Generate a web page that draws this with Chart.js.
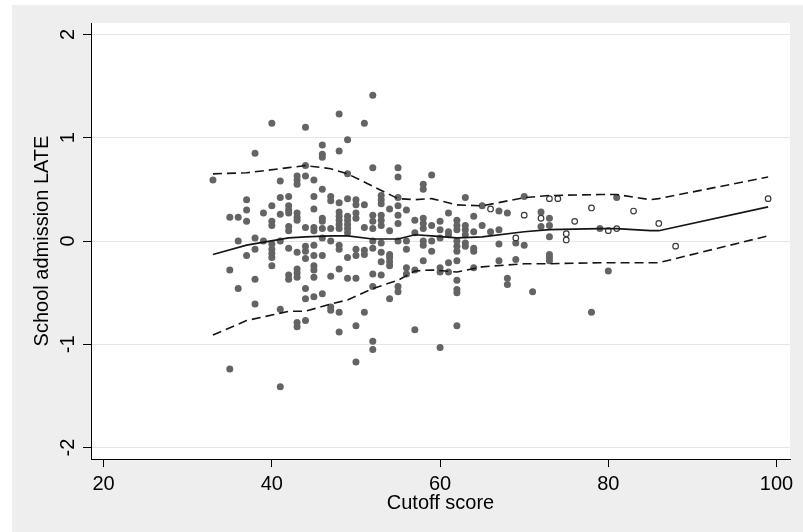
<!DOCTYPE html>
<html>
<head>
<meta charset="utf-8">
<script src="https://cdn.jsdelivr.net/npm/chart.js@4.4.1/dist/chart.umd.min.js"></script>
<style>
  html, body { margin: 0; padding: 0; background: #fff; }
  #frame { position: absolute; left: 12px; top: 5px; width: 791px; height: 527px; background: #eeeeee; }
</style>
</head>
<body>
<div id="frame"><canvas id="lateChart" width="791" height="527"></canvas></div>
<script>
// cutoff score columns and the LATE estimates sitting on each (filled markers)
const filledScores = [33, 35, 36, 37, 38, 39, 40, 41, 42, 43, 44, 45, 46, 47, 48, 49, 50, 51, 52, 53, 54, 55,
  56, 57, 58, 59, 60, 61, 62, 63, 64, 65, 66, 67, 68, 69, 70, 71, 72, 73, 78, 79, 80, 81];
const filledLates = [
  [0.59],
  [0.23, -0.28, -1.24],
  [0.23, 0.00, -0.46],
  [0.40, 0.30, 0.19, -0.14],
  [0.85, 0.03, -0.08, -0.37, -0.61],
  [0.27, 0.00],
  [1.14, 0.34, 0.19, 0.15, -0.03, -0.08, -0.12, -0.16, -0.24],
  [0.58, 0.42, 0.26, 0.00, -0.66, -1.41],
  [0.43, 0.34, 0.30, 0.27, 0.14, 0.10, -0.07, -0.33, -0.37],
  [0.63, 0.59, 0.55, 0.27, 0.23, 0.20, -0.11, -0.27, -0.31, -0.35, -0.79, -0.83],
  [1.10, 0.73, 0.63, 0.13, -0.05, -0.10, -0.17, -0.46, -0.56, -0.77],
  [0.59, 0.43, 0.31, 0.13, 0.10, -0.04, -0.14, -0.24, -0.28, -0.35, -0.54],
  [0.93, 0.84, 0.81, 0.50, 0.22, 0.19, 0.12, 0.03, -0.14, -0.51],
  [0.43, 0.39, 0.12, 0.00, -0.34, -0.64, -0.67],
  [1.23, 0.87, 0.37, 0.28, 0.24, 0.20, 0.16, 0.12, -0.04, -0.08, -0.27, -0.69, -0.88],
  [0.98, 0.65, 0.41, 0.24, 0.20, 0.16, 0.12, 0.08, -0.16, -0.36],
  [0.40, 0.35, 0.27, 0.22, -0.08, -0.14, -0.36, -0.82, -1.17],
  [1.14, 0.35, 0.13, -0.09, -0.13, -0.69],
  [1.41, 0.71, 0.25, 0.19, 0.12, 0.00, -0.07, -0.32, -0.44, -0.97, -1.05],
  [0.44, 0.40, 0.36, 0.25, 0.20, 0.15, -0.02, -0.11, -0.20, -0.33],
  [0.31, 0.10, -0.13, -0.16, -0.20, -0.24, -0.56],
  [0.71, 0.62, 0.42, 0.34, 0.25, 0.17, 0.00, -0.44, -0.49],
  [0.30, 0.00, -0.08, -0.26, -0.32],
  [0.20, 0.08, -0.28, -0.86],
  [0.55, 0.50, 0.22, 0.17, 0.12, 0.00, -0.04, -0.19],
  [0.64, 0.15, 0.00, -0.10],
  [0.19, 0.11, 0.03, -0.26, -0.30, -1.03],
  [0.27, 0.09, 0.06, -0.21, -0.30],
  [0.20, 0.15, 0.11, 0.00, -0.05, -0.10, -0.19, -0.38, -0.47, -0.50, -0.82],
  [0.42, 0.15, 0.11, 0.06, -0.02, -0.05],
  [0.24, 0.09, -0.07, -0.10, -0.26],
  [0.34, 0.15],
  [0.09],
  [0.29, 0.11, -0.03, -0.19],
  [0.27, -0.36, -0.42],
  [-0.02, -0.18],
  [0.43, -0.04],
  [-0.49],
  [0.28, 0.14],
  [0.22, 0.15, 0.04, -0.13, -0.16, -0.19],
  [-0.69],
  [0.12],
  [-0.29],
  [0.42]
];

// hollow markers
const openScores = [66, 69, 70, 72, 73, 74, 75, 75, 76, 78, 80, 81, 83, 86, 88, 99];
const openLates = [0.31, 0.03, 0.25, 0.22, 0.41, 0.41, 0.07, 0.01, 0.19, 0.32, 0.10, 0.12, 0.29, 0.17, -0.05, 0.41];

// smoothed fit and its band
const fitScores = [33, 37, 42, 44, 47, 49, 52, 55, 57, 59, 62, 65, 70, 73, 79, 81, 85, 86, 99];
const fitMid = [-0.13, -0.04, 0.03, 0.04, 0.05, 0.05, 0.02, 0.02, 0.06, 0.05, 0.03, 0.04, 0.09, 0.11, 0.12, 0.12, 0.10, 0.10, 0.33];
const fitHi = [0.65, 0.66, 0.71, 0.73, 0.70, 0.65, 0.53, 0.41, 0.40, 0.41, 0.35, 0.34, 0.42, 0.44, 0.45, 0.45, 0.40, 0.41, 0.62];
const fitLo = [-0.91, -0.77, -0.68, -0.68, -0.61, -0.57, -0.46, -0.38, -0.29, -0.28, -0.30, -0.25, -0.22, -0.22, -0.21, -0.21, -0.21, -0.21, 0.05];

const xTicks = [20, 40, 60, 80, 100];
const yTicks = [-2, -1, 0, 1, 2];

const filledPts = [];
filledScores.forEach((s, i) => {
  filledLates[i].forEach(v => filledPts.push({ x: s, y: v }));
});
const openPts = openScores.map((s, i) => ({ x: s, y: openLates[i] }));
const toLine = arr => fitScores.map((s, i) => ({ x: s, y: arr[i] }));

const font = { family: "'Liberation Sans', Arial, sans-serif", size: 20 };

const whitePlot = {
  id: 'whitePlot',
  beforeDraw(chart) {
    const { ctx, chartArea: a } = chart;
    ctx.save();
    ctx.fillStyle = '#ffffff';
    ctx.fillRect(a.left, a.top, a.right - a.left, a.bottom - a.top);
    ctx.restore();
  }
};

const lineStyle = {
  type: 'line',
  showLine: true,
  pointRadius: 0,
  borderColor: '#151515',
  borderWidth: 1.6,
  fill: false,
  tension: 0
};

const config = {
  type: 'scatter',
  data: {
    datasets: [
      Object.assign({ label: 'Fit', data: toLine(fitMid), order: 0 }, lineStyle),
      Object.assign({ label: 'Upper', data: toLine(fitHi), borderDash: [9, 5], order: 0 }, lineStyle),
      Object.assign({ label: 'Lower', data: toLine(fitLo), borderDash: [9, 5], order: 0 }, lineStyle),
      {
        label: 'Filled',
        data: filledPts,
        pointRadius: 3.5,
        pointBackgroundColor: '#646464',
        pointBorderWidth: 0,
        order: 2
      },
      {
        label: 'Open',
        data: openPts,
        pointRadius: 2.8,
        pointBackgroundColor: '#ffffff',
        pointBorderColor: '#3a3a3a',
        pointBorderWidth: 1.2,
        order: 1
      }
    ]
  },
  options: {
    responsive: false,
    animation: false,
    devicePixelRatio: 1,
    layout: { padding: { top: 8, right: 13, left: 0, bottom: 0 } },
    plugins: { legend: { display: false }, tooltip: { enabled: false } },
    scales: {
      x: {
        type: 'linear',
        position: 'bottom',
        min: 18.5,
        max: 101.6,
        afterBuildTicks: s => { s.ticks = xTicks.map(v => ({ value: v })); },
        afterFit: s => { s.height = 73; },
        grid: { drawOnChartArea: false, tickLength: 8, tickColor: '#000', tickWidth: 1 },
        border: { color: '#000', width: 1 },
        ticks: { color: '#000', font: font, padding: 5, maxRotation: 0, autoSkip: false },
        title: { display: true, text: 'Cutoff score', color: '#000', font: font, padding: { top: 0, bottom: 17 } }
      },
      y: {
        type: 'linear',
        min: -2.11,
        max: 2.11,
        afterBuildTicks: s => { s.ticks = yTicks.map(v => ({ value: v })); },
        afterFit: s => { s.width = 79; },
        grid: { color: '#e6e6e6', lineWidth: 1, tickLength: 8, tickColor: '#000', tickWidth: 1 },
        border: { color: '#000', width: 1 },
        ticks: { color: '#000', font: font, padding: 6, minRotation: 90, maxRotation: 90, crossAlign: 'center', autoSkip: false },
        title: { display: true, text: 'School admission LATE', color: '#000', font: font, padding: { top: 18, bottom: 0 } }
      }
    }
  },
  plugins: [whitePlot]
};

window.onload = function () {
  const ctx = document.getElementById('lateChart').getContext('2d');
  new Chart(ctx, config);
};
</script>
</body>
</html>
